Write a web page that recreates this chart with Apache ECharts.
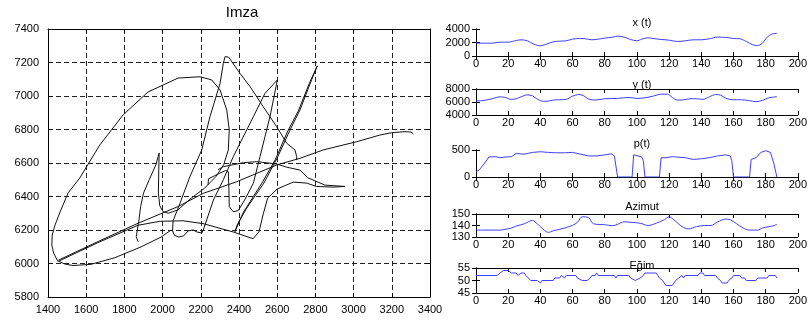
<!DOCTYPE html>
<html><head><meta charset="utf-8">
<script src="https://cdn.jsdelivr.net/npm/echarts/dist/echarts.min.js"></script>
<style>html,body{margin:0;padding:0;background:#fff}#c{width:810px;height:328px}</style>
</head><body><div id="c"></div>
<script>
// ---------- Signature (Imza) strokes ----------
const loopX = [1452,1430,1420,1422,1437,1463,1505,1566,1671,1793,1924,2081,2196,2257,2301,2336,2349,2344,2320,2280,2220,2150,2080,2030,2002,1985,1978,1980,1982,1965,1930,1900,1885,1875,1862,1872];
const loopY = [6012,6060,6110,6170,6230,6307,6421,6510,6707,6887,7024,7107,7115,7096,7036,6916,6797,6678,6590,6520,6450,6390,6320,6300,6310,6345,6420,6560,6660,6590,6500,6420,6340,6250,6160,6130];
const longX = [1455,1660,1871,2081,2213,2388,2597,2719,2841,3016,3138,3200,3269,3300,3313];
const longY = [6020,6130,6240,6340,6419,6488,6588,6628,6678,6727,6767,6781,6787,6785,6773];
const bottomX = [1452,1490,1531,1625,1751,1887,1992,2045];
const bottomY = [6015,5996,5988,5995,6035,6099,6158,6200];
const archX = [1458,1662,1871,1985,2107,2212,2370,2474,2505,2527,2550,2600,2684,2754,2806,2893,2955,2850,2760,2719,2650,2597,2493,2423,2370,2318,2290];
const archY = [6015,6125,6228,6252,6255,6238,6188,6148,6190,6296,6390,6445,6486,6480,6460,6456,6460,6468,6512,6558,6575,6594,6608,6602,6590,6578,6560];
const tallX = [2702,2702,2693,2650,2597,2527,2458,2405,2353,2345,2327,2318,2301,2248,2205,2142,2090,2055,2052,2062,2085,2110,2135,2160,2180,2205,2213,2266,2318,2370,2475,2536,2600,2594,2562,2536,2510,2475,2430,2396,2370,2349,2347,2344,2330,2300,2240,2238];
const tallY = [6618,6638,6678,6718,6817,6936,7056,7135,7220,7232,7235,7195,7076,6876,6678,6516,6356,6256,6195,6168,6158,6165,6195,6200,6188,6182,6200,6379,6500,6638,6876,7016,7095,7056,6876,6757,6638,6479,6380,6316,6309,6339,6450,6548,6555,6540,6505,6470];
const doubleX = [2379,2420,2475,2520,2590,2655,2710,2770,2810,2820,2815,2780,2719,2667,2600,2530,2440,2390,2379];
const doubleY = [6190,6300,6400,6480,6620,6790,6910,7080,7180,7191,7170,7096,6916,6797,6630,6480,6330,6230,6190];

// ---------- Time series ----------
const xtT = [0,10,15,20,25,28,32,36,40,43,48,52,56,60,65,68,72,76,80,85,88,92,96,100,103,107,110,115,120,125,130,135,140,145,150,155,160,164,168,172,175,178,181,184,187];
const xtV = [1900,1900,2050,2050,2300,2400,2250,1750,1500,1700,2100,2200,2250,2500,2600,2550,2400,2500,2650,2800,2950,2800,2450,2250,2500,2700,2600,2450,2350,2150,2250,2400,2400,2550,2800,2750,2600,2550,2150,1650,1550,1900,2800,3250,3350];
const ytT = [0,5,10,15,18,22,25,28,32,35,38,42,45,48,52,56,60,64,67,70,74,80,88,95,100,105,110,115,119,122,125,128,133,137,141,145,149,152,156,160,165,170,174,178,182,187];
const ytV = [6150,6250,6500,6800,6700,6400,6500,6800,7100,6950,6450,6100,6150,6300,6350,6400,6900,7150,6950,6450,6300,6500,6550,6700,6550,6650,6900,7200,7200,6700,6300,6300,6500,6500,6400,6800,7150,7050,6500,6350,6350,6200,6050,6250,6650,6800];
const ptT = [0,2,5,8,12,15,18,22,25,30,35,40,45,50,55,60,65,70,75,80,84,86,88,97,98,100,103,104,105,114,115,118,122,130,135,140,145,150,155,158,159,160,170,171,174,177,180,183,185,187];
const ptV = [97,130,240,370,377,357,370,377,435,422,455,468,455,448,448,455,422,390,390,410,430,390,0,0,410,396,370,300,0,0,357,357,377,357,325,338,357,390,410,390,300,0,0,325,357,455,487,455,260,0];
const azT = [0,5,10,15,18,22,25,30,35,36,40,45,48,55,60,63,66,70,73,80,85,88,92,97,102,107,112,117,120,123,128,132,137,142,146,150,155,158,162,166,170,175,178,182,185,187];
const azV = [136,136,136,136,136.6,137.8,139.5,141.5,144.4,144,139,134,135.4,137.8,140.2,142.7,147.6,146.8,141.5,140.7,139.8,141,143.2,142.7,142,140,142,145,147.6,145,139,137,139,140,140,143,145.6,145,141.5,137.8,136,136,137.8,139,139.8,141];
const egT = [0,13,15,17,20,22,25,26,27,28,30,31,32,34,38,40,41,48,49,52,53,54,55,56,62,63,64,66,69,71,72,74,75,76,86,87,88,95,96,97,99,100,102,103,104,105,112,113,114,116,118,122,123,124,125,126,128,129,130,138,139,141,142,149,150,152,153,156,157,158,159,160,164,165,167,168,174,175,181,182,186,187];
const egV = [52,52,53,54,54,53,53,52,52,53,53,52,52,50,50,49,50,50,51,51,52,52,51,52,52,51,51,50,50,51,52,52,53,52,52,51,52,52,51,51,50,50,51,51,52,53,53,52,51,50,48,48,49,50,50,51,52,51,52,52,53,53,52,52,51,50,49,49,50,50,51,52,52,51,51,50,50,51,51,52,52,51];

// ---------- Titles / ticks ----------
const mainTitle = 'Imza';
const subTitles = ['x (t)', 'y (t)', 'p(t)', 'Azimut', 'Eğim'];
const mainX = {min:1400, max:3400, step:200};
const mainY = {min:5800, max:7400, step:200};
const tRange = {min:0, max:200, step:20};
const subY = [
  {min:0, max:4000, step:2000},
  {min:4000, max:8000, step:2000},
  {min:0, max:500, step:500},
  {min:130, max:150, step:10},
  {min:45, max:55, step:5}
];

const FONT = '"Liberation Sans", Arial, Helvetica, sans-serif';
const zip = (a, b) => a.map((v, i) => [v, b[i]]);
const plain = v => String(v);

const subLayout = [
  {top:29, height:27, titleTop:12},
  {top:89, height:26, titleTop:74},
  {top:150, height:27, titleTop:133},
  {top:214, height:23, titleTop:196},
  {top:268, height:25, titleTop:255}
];
const subData = [zip(xtT, xtV), zip(ytT, ytV), zip(ptT, ptV), zip(azT, azV), zip(egT, egV)];

const grids = [{left:48, top:29, width:382, height:268}];
subLayout.forEach(s => grids.push({left:476, top:s.top, width:323, height:s.height}));

const axLine = {show:true, lineStyle:{color:'#000', width:1}};
const tick = {show:true, inside:true, length:4, lineStyle:{color:'#000'}};
const dashed = {show:true, lineStyle:{color:'#222', type:[5,3], width:1}};

const xAxes = [], yAxes = [];
function addAxes(gi, xr, yr, fs, grid, xm, ym) {
  xAxes.push({type:'value', gridIndex:gi, position:'bottom', min:xr.min, max:xr.max, interval:xr.step,
    axisLine:axLine, axisTick:tick, splitLine: grid ? dashed : {show:false},
    axisLabel:{color:'#000', fontSize:fs, fontFamily:FONT, margin:xm, formatter:plain}});
  xAxes.push({type:'value', gridIndex:gi, position:'top', min:xr.min, max:xr.max, interval:xr.step,
    axisLine:axLine, axisTick:tick, splitLine:{show:false}, axisLabel:{show:false}});
  yAxes.push({type:'value', gridIndex:gi, position:'left', min:yr.min, max:yr.max, interval:yr.step,
    axisLine:axLine, axisTick:tick, splitLine: grid ? dashed : {show:false},
    axisLabel:{color:'#000', fontSize:fs, fontFamily:FONT, margin:ym, formatter:plain}});
  yAxes.push({type:'value', gridIndex:gi, position:'right', min:yr.min, max:yr.max, interval:yr.step,
    axisLine:axLine, axisTick:tick, splitLine:{show:false}, axisLabel:{show:false}});
}
addAxes(0, mainX, mainY, 11, true, 7, 9);
subY.forEach((yr, i) => addAxes(i + 1, tRange, yr, 11, false, 2, 6));

const series = [];
[[loopX, loopY], [longX, longY], [bottomX, bottomY], [archX, archY], [tallX, tallY], [doubleX, doubleY]].forEach(s => {
  series.push({type:'line', xAxisIndex:0, yAxisIndex:0, data:zip(s[0], s[1]), showSymbol:false,
    lineStyle:{color:'#111', width:1}, silent:true});
});
subData.forEach((d, i) => {
  series.push({type:'line', xAxisIndex:(i + 1) * 2, yAxisIndex:(i + 1) * 2, data:d, showSymbol:false,
    smooth: (i < 2 || i === 3) ? 0.3 : false,
    lineStyle:{color:'#3f3fff', width:1}, silent:true});
});

const titles = [{text:mainTitle, left:237, top:0, textAlign:'center',
  textStyle:{fontSize:15, fontWeight:'normal', color:'#000', fontFamily:FONT}}];
subLayout.forEach((s, i) => titles.push({text:subTitles[i], left:637, top:s.titleTop, textAlign:'center',
  textStyle:{fontSize:11, fontWeight:'normal', color:'#000', fontFamily:FONT}}));

const chart = echarts.init(document.getElementById('c'), null, {renderer:'canvas'});
chart.setOption({
  animation:false,
  backgroundColor:'#fff',
  title:titles,
  grid:grids,
  xAxis:xAxes,
  yAxis:yAxes,
  series:series
});
</script></body></html>
